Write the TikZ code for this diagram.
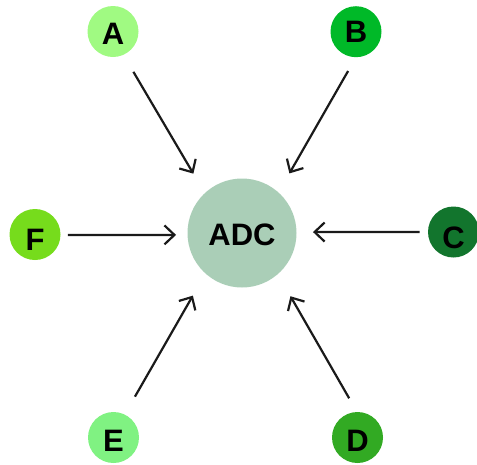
\documentclass[tikz,border=0pt]{standalone}
\usepackage{fontspec}
\setmainfont{Liberation Sans}
\usetikzlibrary{arrows.meta}

\definecolor{cA}{HTML}{A0FA82}
\definecolor{cB}{HTML}{00B928}
\definecolor{cC}{HTML}{12752D}
\definecolor{cD}{HTML}{32AA23}
\definecolor{cE}{HTML}{80F282}
\definecolor{cF}{HTML}{76DC1C}
\definecolor{cHub}{HTML}{AACEB7}
\definecolor{ink}{HTML}{1A1A1A}

\begin{document}
\begin{tikzpicture}[x=1pt, y=-1pt,
  letter/.style={circle, minimum size=51pt, inner sep=0pt, outer sep=0pt,
    font=\fontsize{31}{31}\selectfont\bfseries, text=black,
    text depth=0pt},
  hub/.style={circle, minimum size=109pt, inner sep=0pt, outer sep=0pt,
    fill=cHub, font=\fontsize{31}{31}\selectfont\bfseries, text=black,
    text height=24pt, text depth=0pt},
  feed/.style={draw=ink, line width=2.2pt,
    -{Straight Barb[length=10pt, width=19pt]}}]

  \useasboundingbox (0,0) rectangle (477,464);

  % central node
  \node[hub] (ADC) at (242,233) {ADC};

  % surrounding inputs
  \node[letter, fill=cA, text height=25pt] (A) at (113,31.5) {A};
  \node[letter, fill=cB, text height=22pt] (B) at (356,31.7) {B};
  \node[letter, fill=cC, text height=33pt] (C) at (453.5,232) {C};
  \node[letter, fill=cD, text height=27pt] (D) at (357.5,437.5) {D};
  \node[letter, fill=cE, text height=27pt] (E) at (113.5,437.5) {E};
  \node[letter, fill=cF, text height=32pt] (F) at (35,234.5) {F};

  % arrows into the hub
  \draw[feed, shorten <=19.75pt, shorten >=22.6pt] (A.-66.9) -- (ADC.133.5);
  \draw[feed, shorten <=15.9pt, shorten >=22pt]   (B.-90)   -- (ADC.48.7);
  \draw[feed, shorten <=8.5pt, shorten >=16.5pt]  (C.180)   -- (ADC.1);
  \draw[feed, shorten <=15.85pt, shorten >=25.5pt] (D.91)   -- (ADC.-49.8);
  \draw[feed, shorten <=20.65pt, shorten >=25.5pt] (E.64.1) -- (ADC.228.7);
  \draw[feed, shorten <=7.5pt, shorten >=11.5pt]  (F.-1)    -- (ADC.182);
\end{tikzpicture}
\end{document}
